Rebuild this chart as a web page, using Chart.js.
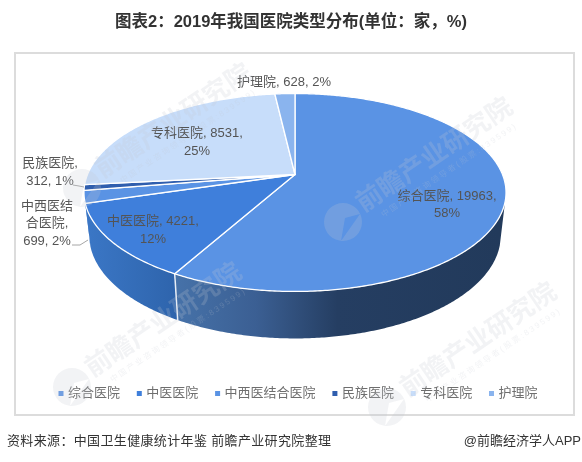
<!DOCTYPE html>
<html>
<head>
<meta charset="utf-8">
<style>
    html, body { margin: 0; padding: 0; background: #fff; }
    canvas { display: block; }
</style>
<script src="https://cdn.jsdelivr.net/npm/chart.js@4"></script>
</head>
<body>
<canvas id="myChart" width="582" height="462"></canvas>
<script>
var categories = ["综合医院", "中医医院", "中西医结合医院", "民族医院", "专科医院", "护理院"];
var hospitalCounts = [19963, 4221, 699, 312, 8531, 628];
var sliceColors = ["#5a93e4", "#3f7fdb", "#5a93e4", "#2f5eae", "#c7ddfa", "#8ab4ee"];

var titleText = "图表2：2019年我国医院类型分布(单位：家，%)";
var sourceText = "资料来源：中国卫生健康统计年鉴 前瞻产业研究院整理";
var brandText = "@前瞻经济学人APP";
var markText = "前瞻产业研究院";
var markSubText = "中国产业咨询领导者(股票:839599)";

var FONT = '"Liberation Sans", "Noto Sans CJK SC", sans-serif';
var total = hospitalCounts.reduce(function (a, b) { return a + b; }, 0);

// the disc is seen in perspective, so its centre sits above the middle of the ellipse
var disc = { cx: 295, cy: 174.5, a: 95.7, b: 207.5, p: 0.1818, midY: 192, lowMidY: 235, lowX: 0.975, lowY: 1.04 };

var topPoint = function (angle) {
    var u = Math.cos(angle), v = Math.sin(angle);
    var w = 1 - disc.p * v;
    return { x: disc.cx + disc.b * u / w, y: disc.cy + disc.a * v / w };
};

var lowPoint = function (angle) {
    var t = topPoint(angle);
    return {
        x: disc.cx + (t.x - disc.cx) * disc.lowX,
        y: disc.lowMidY + (t.y - disc.midY) * disc.lowY
    };
};

var arcPoints = function (from, to, fn) {
    var pts = [], n = Math.max(2, Math.ceil(Math.abs(to - from) / 0.01));
    for (var i = 0; i <= n; i++) {
        pts.push(fn(from + (to - from) * i / n));
    }
    return pts;
};

var tracePoints = function (ctx, pts) {
    pts.forEach(function (p) { ctx.lineTo(p.x, p.y); });
};

var wallFill = function (ctx, i) {
    var g;
    if (i === 0) {
        g = ctx.createLinearGradient(175, 0, 500, 0);
        g.addColorStop(0, "#4672a9");
        g.addColorStop(0.25, "#3b5f93");
        g.addColorStop(0.5, "#253e62");
        g.addColorStop(1, "#223a5b");
    } else {
        g = ctx.createLinearGradient(85, 0, 177, 0);
        g.addColorStop(0, "#3b77c6");
        g.addColorStop(1, "#2e64ac");
    }
    return g;
};

// label lines are built from the data, only the wrapping differs per slice
var labelLines = function (i) {
    var name = categories[i], value = hospitalCounts[i];
    var pct = Math.round(value / total * 100) + "%";
    if (i === 2) return [name.slice(0, 4), name.slice(4) + ",", value + ", " + pct];
    if (i === 3) return [name + ",", value + ", " + pct];
    if (i === 5) return [name + ", " + value + ", " + pct];
    return [name + ", " + value + ",", pct];
};

var labelSpots = [
    { x: 447, y: 196, gap: 17.5 },
    { x: 153, y: 221, gap: 18 },
    { x: 47, y: 206, gap: 17.5 },
    { x: 50, y: 163, gap: 18 },
    { x: 197, y: 133, gap: 18 },
    { x: 284, y: 82, gap: 18 }
];

var leaders = [
    [[73, 185], [79, 186], [84, 187]],
    [[72, 245], [80, 245], [88, 240]]
];

var marks = [
    { x: 82, y: 188 },
    { x: 343, y: 222 },
    { x: 72, y: 387 },
    { x: 387, y: 407 }
];

var pie3d = {
    id: "pie3d",
    afterLayout: function (chart) {
        // legend sits a little right of the title in the reference
        chart.legend.left += 8;
        chart.legend.right += 8;
    },
    beforeDraw: function (chart) {
        var ctx = chart.ctx;
        ctx.save();
        ctx.strokeStyle = "#dcdcdc";
        ctx.lineWidth = 2;
        ctx.strokeRect(15, 53, 559, 362);
        ctx.restore();
    },
    beforeDatasetsDraw: function (chart) {
        var ctx = chart.ctx;
        var arcs = chart.getDatasetMeta(0).data;
        var frontStart = 1.7 * Math.PI / 18 - 0.02;
        var frontEnd = Math.PI - 0.1;
        ctx.save();
        ctx.lineJoin = "round";

        // side walls
        arcs.forEach(function (arc, i) {
            var from = Math.max(arc.startAngle, frontStart);
            var to = Math.min(arc.endAngle, frontEnd);
            if (to <= from) return;
            var upper = arcPoints(from, to, topPoint);
            var lower = arcPoints(to, from, lowPoint);
            ctx.beginPath();
            tracePoints(ctx, upper);
            tracePoints(ctx, lower);
            ctx.closePath();
            ctx.fillStyle = wallFill(ctx, i);
            ctx.fill();
        });

        // divider on the wall
        var cut = arcs[0].endAngle;
        var a = topPoint(cut), b = lowPoint(cut);
        ctx.beginPath();
        ctx.moveTo(a.x, a.y);
        ctx.lineTo(b.x, b.y);
        ctx.strokeStyle = "#e8eef6";
        ctx.lineWidth = 1.5;
        ctx.stroke();

        // top face
        arcs.forEach(function (arc, i) {
            ctx.beginPath();
            ctx.moveTo(disc.cx, disc.cy);
            tracePoints(ctx, arcPoints(arc.startAngle, arc.endAngle, topPoint));
            ctx.closePath();
            ctx.fillStyle = sliceColors[i];
            ctx.fill();
            ctx.strokeStyle = "#fff";
            ctx.lineWidth = 1.3;
            ctx.stroke();
        });

        // leaders
        ctx.strokeStyle = "#a6a6a6";
        ctx.lineWidth = 1;
        leaders.forEach(function (line) {
            ctx.beginPath();
            line.forEach(function (p, j) {
                if (j === 0) ctx.moveTo(p[0], p[1]); else ctx.lineTo(p[0], p[1]);
            });
            ctx.stroke();
        });

        // data labels
        ctx.font = "13px " + FONT;
        ctx.fillStyle = "#545454";
        ctx.textAlign = "center";
        ctx.textBaseline = "middle";
        labelSpots.forEach(function (spot, i) {
            labelLines(i).forEach(function (line, j) {
                ctx.fillText(line, spot.x, spot.y + j * spot.gap);
            });
        });
        ctx.restore();
        return false;
    },
    afterDraw: function (chart) {
        var ctx = chart.ctx;
        ctx.save();

        // watermarks
        marks.forEach(function (m) {
            ctx.save();
            ctx.fillStyle = "rgba(195,200,210,0.22)";
            ctx.beginPath();
            ctx.arc(m.x, m.y, 19, 0, Math.PI * 2);
            // notch in the logo
            ctx.moveTo(m.x - 2, m.y + 19);
            ctx.lineTo(m.x + 17, m.y - 8);
            ctx.lineTo(m.x + 2, m.y - 4);
            ctx.closePath();
            ctx.fill("evenodd");
            ctx.translate(m.x + 92, m.y - 66);
            ctx.rotate(-34 * Math.PI / 180);
            ctx.textAlign = "center";
            ctx.textBaseline = "middle";
            ctx.font = "bold 26px " + FONT;
            ctx.fillText(markText, 0, 0);
            ctx.font = "8px " + FONT;
            ctx.letterSpacing = "2px";
            ctx.fillText(markSubText, 4, 20);
            ctx.restore();
        });

        // footer
        ctx.textBaseline = "middle";
        ctx.fillStyle = "#333";
        ctx.font = "13px " + FONT;
        ctx.textAlign = "left";
        ctx.letterSpacing = "0.35px";
        ctx.fillText(sourceText, 7, 441);
        ctx.letterSpacing = "0px";
        ctx.textAlign = "right";
        ctx.fillText(brandText, 581, 441);
        ctx.restore();
    }
};

var ctx = document.getElementById("myChart");
var myPieChart = new Chart(ctx, {
    type: "pie",
    data: {
        labels: categories,
        datasets: [{
            data: hospitalCounts,
            backgroundColor: sliceColors,
            borderWidth: 0
        }]
    },
    options: {
        responsive: false,
        animation: false,
        layout: { padding: { top: 13, bottom: 52 } },
        plugins: {
            tooltip: { enabled: false },
            title: {
                display: true,
                text: titleText,
                color: "#333",
                font: { family: FONT, size: 16.5, weight: "bold" },
                padding: { top: 0, bottom: 20 }
            },
            legend: {
                position: "bottom",
                labels: {
                    usePointStyle: true,
                    pointStyle: "rect",
                    boxWidth: 1,
                    boxHeight: 5,
                    padding: 18.8,
                    color: "#6e6e6e",
                    font: { family: FONT, size: 13 }
                }
            }
        }
    },
    plugins: [pie3d]
});
</script>
</body>
</html>
